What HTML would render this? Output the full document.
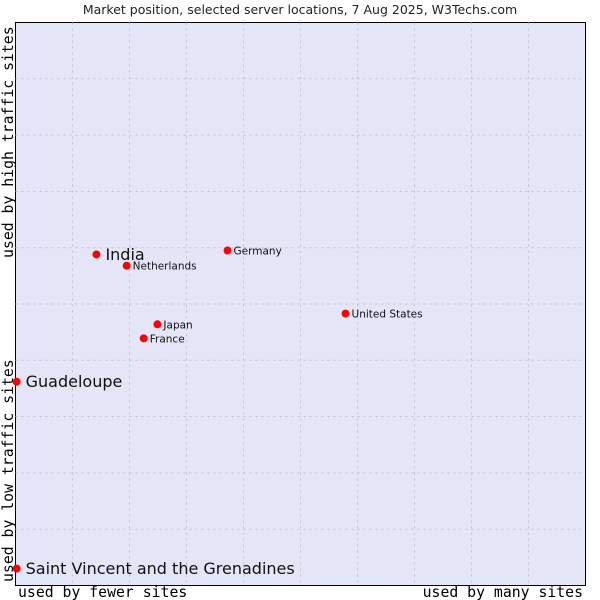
<!DOCTYPE html>
<html><head><meta charset="utf-8"><style>body{margin:0;background:#fff}svg{display:block}</style></head>
<body>
<svg width="600" height="600" viewBox="0 0 600 600" xmlns="http://www.w3.org/2000/svg" font-family="DejaVu Sans, sans-serif">
<text x="300" y="14" text-anchor="middle" font-size="12.5" fill="#222">Market position, selected server locations, 7 Aug 2025, W3Techs.com</text>
<rect x="15.5" y="22.5" width="570" height="563" fill="#e4e6f8" stroke="#000" stroke-width="1"/>
<g id="grid"></g>
<g id="points"></g>
<text transform="translate(13,258) rotate(-90)" font-family="DejaVu Sans Mono, Liberation Mono, monospace" font-size="14.8" fill="#000">used by high traffic sites</text>
<text transform="translate(13,582) rotate(-90)" font-family="DejaVu Sans Mono, Liberation Mono, monospace" font-size="14.8" fill="#000">used by low traffic sites</text>
<text x="18" y="597" font-family="DejaVu Sans Mono, Liberation Mono, monospace" font-size="14.8" fill="#000">used by fewer sites</text>
<text x="583" y="597" text-anchor="end" font-family="DejaVu Sans Mono, Liberation Mono, monospace" font-size="14.8" fill="#000">used by many sites</text>
</svg>
<script>
const names=["India","Netherlands","Germany","United States","Japan","France","Guadeloupe","Saint Vincent and the Grenadines"];
const xValues=[14.2,19.5,37.2,57.9,24.9,22.5,0.2,0.2];
const yValues=[58.8,56.8,59.5,48.3,46.4,43.9,36.2,3.0];
const highlighted=[true,false,false,false,false,false,true,true];
const L=15.5,T=22.5,W=570,H=563;
const sx=v=>L+v/100*W, sy=v=>T+H-v/100*H;
const NS="http://www.w3.org/2000/svg";
const grid=document.getElementById('grid');
for(let i=1;i<10;i++){
  const v=document.createElementNS(NS,'line');
  
  
  v.setAttribute('x1',sx(i*10));v.setAttribute('x2',sx(i*10));v.setAttribute('y1',T);v.setAttribute('y2',T+H);
  v.setAttribute('stroke','#c0c0c0');v.setAttribute('stroke-dasharray','2,4');
  grid.appendChild(v);
  const h=document.createElementNS(NS,'line');
  
  
  h.setAttribute('y1',sy(i*10));h.setAttribute('y2',sy(i*10));h.setAttribute('x1',L);h.setAttribute('x2',L+W);
  h.setAttribute('stroke','#c0c0c0');h.setAttribute('stroke-dasharray','2,4');
  grid.appendChild(h);
}
const pts=document.getElementById('points');
names.forEach((n,i)=>{
  const x=sx(xValues[i]),y=sy(yValues[i]);
  const c=document.createElementNS(NS,'circle');
  
  
  c.setAttribute('cx',x);c.setAttribute('cy',y);c.setAttribute('r',4);c.setAttribute('fill','#f00');
  pts.appendChild(c);
  const t=document.createElementNS(NS,'text');
  
  
  const big=highlighted[i];
  t.setAttribute('x',x+(big?9:6));t.setAttribute('y',y+(big?5.5:4));
  t.setAttribute('font-size',big?16:10.5);t.setAttribute('fill','#111');
  t.textContent=n;
  pts.appendChild(t);
});
</script>
</body></html>
